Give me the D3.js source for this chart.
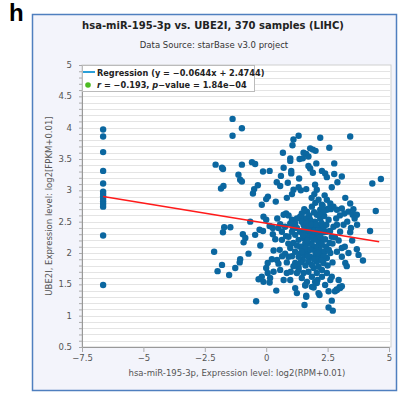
<!DOCTYPE html>
<html>
<head>
<meta charset="utf-8">
<script src="https://cdn.jsdelivr.net/npm/d3@7"></script>
<style>
  body { margin: 0; background: #fff; }
  text { font-family: "DejaVu Sans", sans-serif; }
</style>
</head>
<body>
<svg id="chart" width="398" height="402"></svg>
<script>
// samples at x = -6.64 (low miRNA expression)
const lowX = -6.64;
const lowY = [3.97, 3.86, 3.61, 3.31, 3.11, 2.98, 2.94, 2.90, 2.86, 2.82, 2.78, 2.74, 2.28, 1.49];

// main cloud [x, y]
const cloud = [
  [-1.37, 4.14], [-0.99, 3.99], [-1.37, 3.87], [1.32, 3.87], [1.11, 3.81], [2.20, 3.84], [3.42, 3.86],
  [1.07, 3.72], [2.57, 3.68], [1.79, 3.67], [1.90, 3.65], [2.01, 3.63], [0.68, 3.60], [1.52, 3.60],
  [1.63, 3.58], [0.98, 3.51], [0.98, 3.47], [1.36, 3.50], [1.49, 3.51], [1.72, 3.54], [2.04, 3.43],
  [2.77, 3.43], [-2.06, 3.41], [-1.80, 3.36], [-1.76, 3.34], [-0.99, 3.41], [-0.58, 3.45], [-0.45, 3.42],
  [-0.13, 3.30], [0.14, 3.31], [0.71, 3.36], [1.02, 3.31], [1.02, 3.27], [1.34, 3.19], [1.72, 3.39],
  [1.79, 3.35], [1.90, 3.28], [2.27, 3.31], [2.40, 3.27], [2.47, 3.21], [2.77, 3.26], [3.08, 3.22],
  [2.90, 3.13], [-1.13, 3.25], [-1.06, 3.17], [-0.99, 3.14], [-1.74, 3.07], [-1.84, 3.03], [-0.49, 3.02],
  [-0.54, 2.95], [-0.34, 3.08], [0.60, 3.23], [0.43, 3.13], [0.57, 3.07], [0.88, 3.12], [1.32, 3.05],
  [1.41, 3.00], [1.63, 3.02], [1.99, 3.09], [2.06, 3.01], [1.96, 2.94], [2.67, 3.05], [1.11, 3.01],
  [1.05, 2.94], [0.84, 2.88], [0.07, 2.90], [0.00, 2.86], [-0.18, 2.77], [0.39, 2.82], [2.38, 2.92],
  [3.22, 2.88], [3.42, 2.79], [4.32, 3.11], [4.67, 3.18], [4.46, 2.67], [4.23, 2.35], [2.13, 2.85],
  [2.27, 2.77], [2.20, 2.69], [2.47, 2.69], [2.63, 2.70], [3.08, 2.71], [3.18, 2.63], [3.35, 2.66],
  [3.52, 2.61], [3.69, 2.61], [3.60, 2.55], [-0.65, 2.50], [-1.71, 2.41], [-1.76, 2.33], [-1.46, 2.41],
  [-2.12, 2.02], [-1.98, 1.71], [-1.80, 1.81], [-1.51, 1.65], [-1.26, 1.76], [-1.08, 1.85], [-1.06, 1.90],
  [-0.95, 2.30], [-0.85, 2.24], [-0.92, 2.17], [-0.72, 1.99], [-0.45, 2.29], [-0.24, 2.12], [-0.11, 2.58],
  [0.00, 2.53], [-0.27, 2.37], [-0.13, 2.35], [0.14, 2.43], [0.27, 2.40], [0.50, 2.40], [0.57, 2.46],
  [0.27, 2.30], [0.37, 2.22], [0.71, 2.61], [0.81, 2.63], [0.91, 2.60], [0.64, 2.21], [0.81, 2.27],
  [1.05, 2.53], [1.18, 2.47], [1.25, 2.40], [0.30, 2.04], [0.06, 1.84], [0.00, 1.76], [0.06, 1.68],
  [0.23, 1.90], [0.44, 1.89], [0.50, 1.83], [-0.18, 1.62], [-0.31, 1.58], [-0.11, 1.54], [0.16, 1.60],
  [0.14, 1.53], [0.41, 1.40], [0.77, 1.99], [0.91, 1.94], [0.84, 1.85], [1.18, 1.84], [1.25, 1.68],
  [1.32, 1.77], [1.18, 1.44], [1.25, 1.36], [1.59, 1.49], [1.63, 1.30], [1.86, 1.62], [1.99, 1.54],
  [2.09, 1.57], [2.13, 1.36], [2.27, 1.73], [2.47, 1.68], [2.61, 1.57], [2.67, 1.62], [2.95, 1.57],
  [2.88, 1.41], [2.99, 1.46], [3.08, 2.08], [2.88, 2.02], [3.08, 1.94], [3.22, 1.84], [3.28, 1.79],
  [3.69, 2.06], [3.76, 1.97], [3.94, 1.88], [3.42, 2.33], [2.74, 2.42], [2.88, 2.45], [3.01, 2.34],
  [2.67, 2.26], [2.58, 2.16], [2.33, 2.21], [2.44, 2.10], [2.27, 1.99], [1.93, 2.08], [1.99, 1.94],
  [2.06, 1.86], [1.93, 1.76], [1.72, 2.16], [1.66, 2.02], [1.79, 1.94], [1.45, 2.10], [1.38, 1.99],
  [1.49, 1.89], [1.45, 2.63], [1.66, 2.66], [1.86, 2.74], [2.06, 2.61], [2.20, 2.55], [2.36, 2.59],
  [2.54, 2.53], [1.99, 2.50], [1.79, 2.53], [1.59, 2.55], [1.38, 2.58], [1.52, 2.45], [1.72, 2.42],
  [1.93, 2.40], [2.13, 2.43], [2.33, 2.40], [2.47, 2.34], [2.20, 2.32], [1.99, 2.29], [1.79, 2.32],
  [1.59, 2.34], [1.38, 2.34], [1.18, 2.29], [1.32, 2.21], [1.52, 2.24], [1.72, 2.26], [1.93, 2.21],
  [2.13, 2.18], [2.27, 2.13], [2.06, 2.10], [1.86, 2.13], [1.59, 2.16], [1.38, 2.10], [1.11, 2.16],
  [0.98, 2.08], [1.18, 2.02], [1.32, 1.94], [1.55, 1.97], [1.72, 1.86], [1.86, 1.81], [2.13, 1.78],
  [2.33, 1.84], [2.47, 1.92], [2.61, 2.00], [1.05, 2.34], [0.91, 2.26], [0.77, 2.42], [0.64, 2.34],
  [0.98, 2.47], [2.47, 2.85], [2.61, 2.79], [2.74, 2.74], [2.88, 2.69], [2.54, 2.71], [2.33, 2.66],
  [1.32, 1.73], [1.52, 1.68], [1.72, 1.70], [1.45, 1.60], [1.66, 1.54], [1.86, 1.46], [2.06, 1.68],
  [2.27, 1.62], [2.40, 1.49], [2.54, 1.39], [0.84, 1.68], [0.98, 1.57], [1.11, 1.79], [0.57, 1.73],
  [0.71, 1.57], [-0.41, 1.23], [1.56, 1.17], [1.63, 1.32], [1.59, 1.48], [1.93, 1.45], [2.06, 1.52],
  [2.17, 1.33], [2.54, 1.13], [2.71, 1.08], [2.67, 1.24], [2.80, 1.39], [2.87, 1.42], [3.01, 1.44],
  [3.08, 1.47],
  // dense core
  [1.45, 2.50], [1.65, 2.48], [1.85, 2.45], [2.05, 2.45], [2.25, 2.48], [2.45, 2.45], [1.55, 2.38],
  [1.75, 2.36], [1.95, 2.35], [2.15, 2.36], [2.35, 2.33], [1.50, 2.28], [1.68, 2.20], [1.88, 2.25],
  [2.05, 2.22], [2.22, 2.25], [2.40, 2.22], [1.62, 2.08], [1.80, 2.05], [2.00, 2.02], [2.18, 2.05],
  [2.38, 2.02], [1.45, 2.02], [1.95, 1.90], [2.15, 1.92], [2.35, 1.95], [1.70, 1.95], [1.25, 2.12],
  [1.25, 2.55], [2.60, 2.35], [2.70, 2.15], [2.80, 2.25], [2.55, 2.05], [2.15, 2.62], [1.95, 2.65],
  [1.75, 2.60], [1.55, 2.70], [2.30, 2.75], [2.00, 2.80], [1.85, 2.88], [2.10, 2.00], [1.40, 1.85],
  [1.60, 1.80], [2.25, 1.88], [2.50, 1.80], [2.70, 1.85], [1.05, 1.95], [0.90, 2.15], [1.10, 2.40],
  [2.85, 2.55], [3.00, 2.60], [3.15, 2.45], [3.30, 2.50], [3.45, 2.40], [3.55, 2.70], [3.70, 2.45],
  [0.45, 2.55], [0.55, 2.05], [0.30, 1.70], [0.65, 1.95], [1.00, 1.70], [2.95, 2.20], [3.20, 2.10],
  [3.35, 2.00], [3.50, 2.20]
];

const xTicks = [-7.5, -5, -2.5, 0, 2.5, 5];
const yTicks = [0.5, 1, 1.5, 2, 2.5, 3, 3.5, 4, 4.5, 5];
const slope = -0.0644, intercept = 2.4744;
const titleText = "hsa-miR-195-3p vs. UBE2I, 370 samples (LIHC)";
const subtitleText = "Data Source: starBase v3.0 project";
const xLabel = "hsa-miR-195-3p, Expression level: log2(RPM+0.01)";
const yLabel = "UBE2I, Expression level: log2[FPKM+0.01]";

const points = lowY.map(v => [lowX, v]).concat(cloud);

const svg = d3.select("#chart");
const x = d3.scaleLinear().domain([-7.5, 5]).range([82, 389]);
const y = d3.scaleLinear().domain([0.5, 5]).range([347, 65]);

// panel letter
svg.append("text").attr("x", 9).attr("y", 21)
    .style("font-family", "Liberation Sans, Arial, sans-serif")
    .style("font-weight", "bold").style("font-size", "24px").text("h");

// outer frame
svg.append("rect").attr("x", 32.5).attr("y", 14.5).attr("width", 364).attr("height", 376)
    .attr("fill", "#f3f4fb").attr("stroke", "#4f7fbf").attr("stroke-width", 1.5);

svg.append("text").attr("x", 213).attr("y", 29).attr("text-anchor", "middle")
    .style("font-size", "10px").style("font-weight", "bold").attr("fill", "#222").text(titleText);
svg.append("text").attr("x", 214).attr("y", 48).attr("text-anchor", "middle")
    .style("font-size", "8.5px").attr("fill", "#333").text(subtitleText);

// plot area
svg.append("rect").attr("x", 82).attr("y", 65).attr("width", 309).attr("height", 282)
    .attr("fill", "#fff").attr("stroke", "#cfcfcf");

// grid every 0.1
const grid = d3.range(6, 50).map(i => i / 10);
svg.append("g").selectAll("line").data(grid).join("line")
    .attr("x1", 83).attr("x2", 390)
    .attr("y1", d => Math.round(y(d)) + 0.5).attr("y2", d => Math.round(y(d)) + 0.5)
    .attr("stroke", "#e4e4e4");

// y axis
const yAxis = svg.append("g").attr("transform", "translate(82,0)")
    .call(d3.axisLeft(y).tickValues(d3.range(5, 51).map(i => i / 10)).tickSize(3).tickFormat(""));
yAxis.select(".domain").attr("stroke", "#999");
yAxis.selectAll(".tick line").attr("stroke", "#aaa");
svg.append("g").selectAll("text").data(yTicks).join("text")
    .attr("x", 72).attr("y", d => y(d) + 3).attr("text-anchor", "end")
    .style("font-size", "8.5px").attr("fill", "#555").text(d => d);

// x axis
const xAxis = svg.append("g").attr("transform", "translate(0,347)")
    .call(d3.axisBottom(x).tickValues(xTicks).tickSize(5).tickPadding(3)
        .tickFormat(d => d3.format("")(d).replace("-", "\u2212")));
xAxis.select(".domain").attr("stroke", "#999");
xAxis.selectAll(".tick line").attr("stroke", "#aaa");
xAxis.selectAll(".tick text").style("font-size", "8.5px").attr("fill", "#555")
    .style("font-family", "DejaVu Sans, sans-serif");

svg.append("text").attr("x", 237).attr("y", 376).attr("text-anchor", "middle")
    .style("font-size", "8.5px").attr("fill", "#555").text(xLabel);
svg.append("text").attr("transform", "translate(52,206) rotate(-90)").attr("text-anchor", "middle")
    .style("font-size", "8.5px").attr("fill", "#555").text(yLabel);

// points
svg.append("g").selectAll("circle").data(points).join("circle")
    .attr("cx", d => x(d[0])).attr("cy", d => y(d[1])).attr("r", 3.2)
    .attr("fill", "#0b67a0");

// regression line
const xr = [lowX, 4.6];
svg.append("line")
    .attr("x1", x(xr[0])).attr("y1", y(slope * xr[0] + intercept))
    .attr("x2", x(xr[1])).attr("y2", y(slope * xr[1] + intercept))
    .attr("stroke", "#ff1a1a").attr("stroke-width", 1.5);

// legend
const lg = svg.append("g");
lg.append("rect").attr("x", 82.5).attr("y", 65.5).attr("width", 172).attr("height", 26)
    .attr("fill", "#fff").attr("stroke", "#bbb");
lg.append("line").attr("x1", 83).attr("x2", 95).attr("y1", 72).attr("y2", 72)
    .attr("stroke", "#2a9fd8").attr("stroke-width", 2);
lg.append("text").attr("x", 97).attr("y", 75.5).style("font-size", "8.2px").style("font-weight", "bold")
    .attr("fill", "#222").text("Regression (y = \u22120.0644x + 2.4744)");
lg.append("circle").attr("cx", 88).attr("cy", 85).attr("r", 2.8).attr("fill", "#4cbb22");
const t2 = lg.append("text").attr("x", 97).attr("y", 88).style("font-size", "8.2px")
    .style("font-weight", "bold").attr("fill", "#222");
t2.append("tspan").style("font-style", "italic").text("r");
t2.append("tspan").text(" = \u22120.193, ");
t2.append("tspan").style("font-style", "italic").text("p");
t2.append("tspan").text("\u2212value = 1.84e\u221204");
</script>
</body>
</html>
